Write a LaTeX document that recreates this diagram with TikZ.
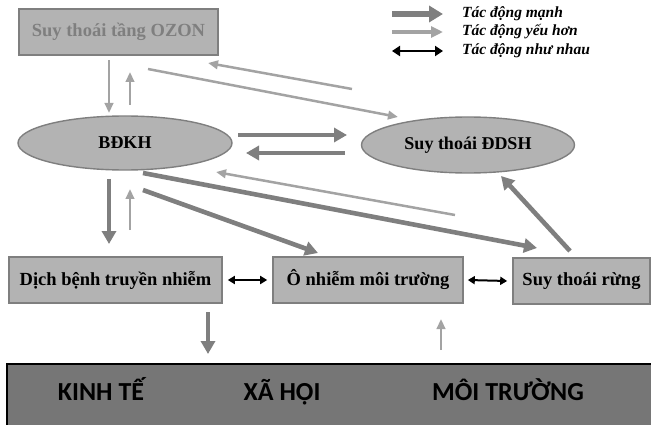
\documentclass[tikz,border=0pt]{standalone}
\usepackage{fontspec}
\setmainfont{Liberation Serif}
\newfontfamily\bandfont{Carlito}
\usetikzlibrary{arrows.meta,shapes.geometric}
\definecolor{boxfill}{HTML}{B3B3B3}
\definecolor{boxline}{HTML}{7F7F7F}
\definecolor{strongc}{HTML}{7F7F7F}
\definecolor{weakc}{HTML}{A3A3A3}
\definecolor{bandc}{HTML}{767676}
\tikzset{
  x=1pt, y=-1pt,
  boxnode/.style={draw=boxline, fill=boxfill, line width=1.6pt, font=\bfseries\fontsize{18.5}{20}\selectfont, inner sep=0pt},
  ellnode/.style={ellipse, draw=boxline, fill=boxfill, line width=1.4pt, font=\bfseries\fontsize{18}{20}\selectfont, inner sep=0pt},
  strongarrow/.style={draw=strongc, line width=4.6pt, -{Triangle[length=13pt,width=14pt]}},
  weakarrow/.style={draw=weakc, line width=2.5pt, -{Triangle[length=10pt,width=8.5pt]}},
  botharrow/.style={draw=black, line width=2pt, {Triangle[length=7pt,width=8pt]}-{Triangle[length=7pt,width=8pt]}},
  legtext/.style={anchor=west, font=\bfseries\itshape\fontsize{15.5}{17}\selectfont, inner sep=0pt},
  bandtext/.style={anchor=base, font=\bandfont\bfseries\fontsize{26}{30}\selectfont, text=black, inner sep=0pt},
}
\begin{document}
\begin{tikzpicture}
\useasboundingbox (0,0) rectangle (651,425);

% bottom band
\node[draw=black, line width=1.5pt, fill=bandc, minimum width=660pt, minimum height=70pt, anchor=north west, inner sep=0pt] (band) at (6,363) {};
\node[bandtext] (kt) at (101,400) {KINH TẾ};
\node[bandtext] (xh) at (282,400) {XÃ HỘI};
\node[bandtext] (mt) at (508,400) {MÔI TRƯỜNG};

% nodes
\node[boxnode, minimum width=199pt, minimum height=46pt, text=boxline] (ozon) at (118.5,32) {Suy thoái tầng OZON};
\node[ellnode, minimum width=214pt, minimum height=54pt] (bdkh) at (125,143) {BĐKH};
\node[ellnode, minimum width=213pt, minimum height=56pt] (ddsh) at (468,145) {Suy thoái ĐDSH};
\node[boxnode, minimum width=213pt, minimum height=46pt] (dich) at (115.5,280) {Dịch bệnh truyền nhiễm};
\node[boxnode, minimum width=190pt, minimum height=46pt] (onhiem) at (368,280) {Ô nhiễm môi trường};
\node[boxnode, minimum width=137pt, minimum height=46pt] (rung) at (581.5,281) {Suy thoái rừng};

% legend
\coordinate (l1a) at (392,14); \coordinate (l1b) at (443,14);
\coordinate (l2a) at (392,32); \coordinate (l2b) at (443,32);
\coordinate (l3a) at (392,51); \coordinate (l3b) at (443,51);
\draw[draw=strongc, line width=6.5pt, -{Triangle[length=14pt,width=16pt]}] (l1a) -- (l1b);
\draw[draw=weakc, line width=4pt, -{Triangle[length=12pt,width=11pt]}] (l2a) -- (l2b);
\draw[draw=black, line width=2.6pt, {Triangle[length=8pt,width=10pt]}-{Triangle[length=8pt,width=10pt]}] (l3a) -- (l3b);
\node[legtext] (lt1) at (462,14) {Tác động mạnh};
\node[legtext] (lt2) at (462,32) {Tác động yếu hơn};
\node[legtext] (lt3) at (462,51) {Tác động như nhau};

% ozon <-> bdkh
\coordinate (o1) at (109,60); \coordinate (o2) at (109,113);
\coordinate (o3) at (130,105); \coordinate (o4) at (130,72);
\draw[weakarrow] (o1) -- (o2);
\draw[weakarrow] (o3) -- (o4);

% ozon <-> ddsh
\coordinate (od1) at (148,69); \coordinate (od2) at (398,117);
\coordinate (od3) at (352,89); \coordinate (od4) at (208,63);
\draw[weakarrow] (od1) -- (od2);
\draw[weakarrow] (od3) -- (od4);

% bdkh <-> ddsh
\coordinate (bd1) at (238,135); \coordinate (bd2) at (347,135);
\coordinate (bd3) at (345,153); \coordinate (bd4) at (246,153);
\draw[strongarrow] (bd1) -- (bd2);
\draw[strongarrow] (bd3) -- (bd4);

% weak return to bdkh
\coordinate (w1) at (455,215); \coordinate (w2) at (216,172);
\draw[weakarrow] (w1) -- (w2);

% bdkh -> rung, onhiem
\coordinate (r1) at (143,173); \coordinate (r2) at (537,248);
\draw[strongarrow] (r1) -- (r2);
\coordinate (n1) at (143,190); \coordinate (n2) at (318,253);
\draw[strongarrow] (n1) -- (n2);

% bdkh <-> dich
\coordinate (d1) at (109,179); \coordinate (d2) at (109,244);
\coordinate (d3) at (130,230); \coordinate (d4) at (130,189);
\draw[strongarrow] (d1) -- (d2);
\draw[weakarrow] (d3) -- (d4);

% rung -> ddsh
\coordinate (rd1) at (570,251); \coordinate (rd2) at (501,176);
\draw[strongarrow] (rd1) -- (rd2);

% double arrows
\draw[botharrow] ([xshift=5pt]dich.east) -- ([xshift=-5pt]onhiem.west);
\draw[botharrow] ([xshift=4pt]onhiem.east) -- ([xshift=-5pt]rung.west);

% to/from band
\coordinate (b1) at (208,312); \coordinate (b2) at (208,354);
\draw[strongarrow] (b1) -- (b2);
\coordinate (b3) at (441,350); \coordinate (b4) at (441,319);
\draw[weakarrow] (b3) -- (b4);
\end{tikzpicture}
\end{document}
